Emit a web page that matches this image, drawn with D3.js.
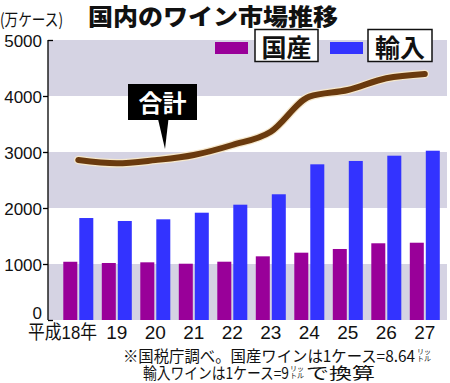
<!DOCTYPE html>
<html><head><meta charset="utf-8">
<script src="https://cdn.jsdelivr.net/npm/d3@7"></script>
<style>
html,body{margin:0;padding:0;background:#fff;}
svg{display:block;}
</style></head>
<body>
<svg id="c" width="450" height="383"></svg>
<script>
const years = ["平成18年","19","20","21","22","23","24","25","26","27"];
const domestic = [1040,1018,1030,1005,1041,1137,1202,1268,1370,1380];
const imported = [1821,1768,1798,1916,2059,2245,2780,2840,2934,3023];
const total = [2857,2798,2855,2946,3125,3362,3988,4107,4316,4393];
const yTicks = [0,1000,2000,3000,4000,5000];
const seriesNames = ["国産","輸入"];
const seriesColors = ["#990099","#3333ff"];

const svg = d3.select("#c");
const JP = "'Noto Sans CJK JP','Noto Sans',sans-serif";
const NUM = "'Liberation Sans',Arial,'Noto Sans CJK JP',sans-serif";

const plotL = 48, plotR = 447;
const y = d3.scaleLinear().domain([0,5000]).range([320,40]);
const x = d3.scalePoint().domain(years).range([78.3,424.8]);
const xs = d3.scaleBand().domain(seriesNames).range([-15,15]).paddingInner(0.125);

// bands
const bandPairs = d3.pairs(yTicks).filter((d,i)=> i%2===0);
svg.append("g").selectAll("rect").data(bandPairs).join("rect")
  .attr("x",plotL).attr("width",plotR-plotL)
  .attr("y",d=>y(d[1])).attr("height",d=>y(d[0])-y(d[1]))
  .attr("fill","#d5d3e3");

// axis
const ax = svg.append("g").attr("transform",`translate(${plotL},0)`)
  .call(d3.axisLeft(y).tickValues(yTicks).tickSize(5).tickPadding(2).tickFormat(d3.format("d")));
ax.select(".domain").attr("stroke","#000").attr("stroke-width",1.3).attr("d",`M0,${y(5000)}V${y(0)}`);
ax.selectAll(".tick line").attr("stroke","#000").attr("stroke-width",1.3)
  .attr("x2",d=> (d===0||d===5000) ? 5 : -5);
ax.selectAll(".tick text").attr("font-family",NUM).attr("font-size",17).attr("fill","#111")
  .attr("x",-6).attr("dy",d=> d===0 ? "-0.1em" : "0.36em");

// bars
const barData = years.map((yr,i)=>({yr, vals:[domestic[i],imported[i]]}));
const g = svg.append("g").selectAll("g").data(barData).join("g")
  .attr("transform",d=>`translate(${x(d.yr)},0)`);
g.selectAll("rect").data(d=>d.vals.map((v,j)=>({v,name:seriesNames[j],c:seriesColors[j]}))).join("rect")
  .attr("x",d=>xs(d.name)).attr("width",xs.bandwidth())
  .attr("y",d=>y(d.v)).attr("height",d=>y(0)-y(d.v)).attr("fill",d=>d.c);

// total line
const line = d3.line().x((d,i)=>x(years[i])).y(d=>y(d)).curve(d3.curveMonotoneX);
svg.append("path").attr("d",line(total)).attr("fill","none")
  .attr("stroke","#f6e8cc").attr("stroke-width",8.5).attr("stroke-linecap","round").attr("stroke-linejoin","round");
svg.append("path").attr("d",line(total)).attr("fill","none")
  .attr("stroke","#6a3a0e").attr("stroke-width",6).attr("stroke-linecap","round").attr("stroke-linejoin","round");

// callout
svg.append("path").attr("d","M158,119 L168.5,119 L165,149 Z").attr("fill","#000");
svg.append("rect").attr("x",128).attr("y",84).attr("width",69).attr("height",36).attr("fill","#000");
svg.append("text").attr("x",162.5).attr("y",112).attr("text-anchor","middle")
  .attr("font-family",JP).attr("font-weight",700).attr("font-size",24).attr("fill","#fff").text("合計");

// x labels
svg.append("g").selectAll("text").data(years).join("text")
  .attr("x",(d,i)=> i===0 ? 28 : x(d)).attr("y",339)
  .attr("text-anchor",(d,i)=> i===0 ? "start" : "middle")
  .attr("textLength",(d,i)=> i===0 ? 69 : null)
  .attr("lengthAdjust","spacingAndGlyphs")
  .attr("font-family",NUM).attr("font-size",19).attr("fill","#111").text(d=>d);

// legend
const legX = [[215,255,318],[330,368,432]];
seriesNames.forEach((n,i)=>{
  const [sx,bx,bx2] = legX[i];
  svg.append("rect").attr("x",sx).attr("y",42).attr("width",33).attr("height",12).attr("fill",seriesColors[i]);
  svg.append("rect").attr("x",bx).attr("y",29.5).attr("width",bx2-bx).attr("height",32)
    .attr("fill","#fff").attr("stroke","#111").attr("stroke-width",1.5);
  svg.append("text").attr("x",(bx+bx2)/2).attr("y",57).attr("text-anchor","middle")
    .attr("font-family",JP).attr("font-weight",700).attr("font-size",25).attr("fill","#111").text(n);
});

// title & unit
svg.append("text").attr("x",88).attr("y",25).attr("font-family",JP).attr("font-weight",900)
  .attr("font-size",22.5).attr("fill","#111").attr("textLength",250).attr("lengthAdjust","spacingAndGlyphs")
  .text("国内のワイン市場推移");
svg.append("text").attr("x",0).attr("y",26).attr("font-family",JP).attr("font-size",17)
  .attr("fill","#111").attr("textLength",63).attr("lengthAdjust","spacingAndGlyphs").text("(万ケース)");

// footnote
function stackedLitre(xp, base){
  const t = svg.append("text").attr("font-family",JP).attr("font-size",7).attr("fill","#111");
  t.append("tspan").attr("x",xp).attr("y",base-7.5).text("リッ");
  t.append("tspan").attr("x",xp).attr("y",base).text("トル");
}
svg.append("text").attr("x",123).attr("y",362).attr("font-family",JP).attr("font-size",15.5)
  .attr("fill","#111").attr("textLength",292).attr("lengthAdjust","spacingAndGlyphs")
  .text("※国税庁調べ。国産ワインは1ケース=8.64");
stackedLitre(417,361);
svg.append("text").attr("x",143).attr("y",379).attr("font-family",JP).attr("font-size",15.5)
  .attr("fill","#111").attr("textLength",146).attr("lengthAdjust","spacingAndGlyphs")
  .text("輸入ワインは1ケース=9");
stackedLitre(290,378);
svg.append("text").attr("x",306).attr("y",379).attr("font-family",JP).attr("font-size",15.5)
  .attr("fill","#111").attr("textLength",69).attr("lengthAdjust","spacingAndGlyphs").text("で換算");
</script>
</body></html>
